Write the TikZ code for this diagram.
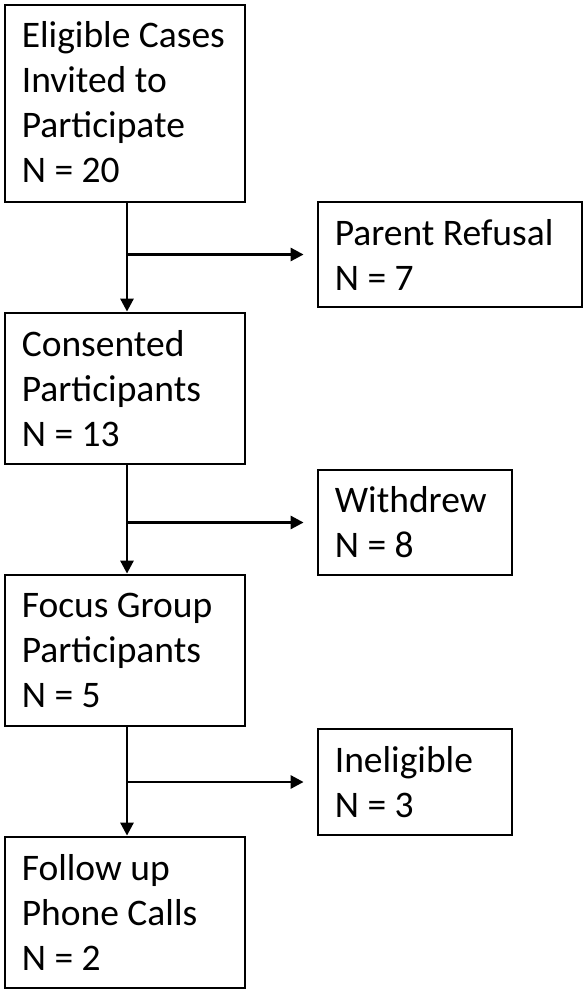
\documentclass[tikz,border=0pt]{standalone}
\usepackage{fontspec}
\setmainfont{Carlito}
\usetikzlibrary{arrows.meta}
\begin{document}
\begin{tikzpicture}[x=1pt,y=-1pt,
  box/.style={draw=black,line width=2.8pt,minimum width=#1,inner sep=0pt},
  txt/.style={anchor=west,align=left,inner sep=0pt,font=\fontsize{37.5}{45}\selectfont},
  arr/.style={line width=2.8pt,-{Triangle[length=13pt,width=13pt]}}]
\useasboundingbox (0,0) rectangle (588,996);
\node[box=240pt,minimum height=197pt] (b1) at (125,103.5) {};
\node[box=264pt,minimum height=105pt] (pr) at (450,254.5) {};
\node[box=240pt,minimum height=151pt] (b2) at (125,388.5) {};
\node[box=194pt,minimum height=105pt] (wd) at (415,522.5) {};
\node[box=240pt,minimum height=151pt] (b3) at (125,650.5) {};
\node[box=194pt,minimum height=106pt] (ie) at (415,782) {};
\node[box=240pt,minimum height=151pt] (b4) at (125,912.5) {};
\node[txt] (t1) at ([xshift=18pt,yshift=1pt]b1.west) {Eligible Cases\\Invited to\\Participate\\N = 20};
\node[txt] (tpr) at ([xshift=18pt]pr.west) {Parent Refusal\\N = 7};
\node[txt] (t2) at ([xshift=18pt]b2.west) {Consented\\Participants\\N = 13};
\node[txt] (twd) at ([xshift=18pt]wd.west) {Withdrew\\N = 8};
\node[txt] (t3) at ([xshift=18pt]b3.west) {Focus Group\\Participants\\N = 5};
\node[txt] (tie) at ([xshift=18pt]ie.west) {Ineligible\\N = 3};
\node[txt] (t4) at ([xshift=18pt]b4.west) {Follow up\\Phone Calls\\N = 2};
\draw[arr] ([xshift=2pt]b1.south) -- ([xshift=2pt]b2.north);
\draw[arr] ([xshift=2pt]b2.south) -- ([xshift=2pt]b3.north);
\draw[arr] ([xshift=2pt]b3.south) -- ([xshift=2pt]b4.north);
\draw[arr,shorten >=13pt] ([xshift=2pt]b1.south |- pr.west) -- (pr.west);
\draw[arr,shorten >=13pt] ([xshift=2pt]b2.south |- wd.west) -- (wd.west);
\draw[arr,shorten >=13pt] ([xshift=2pt]b3.south |- ie.west) -- (ie.west);
\end{tikzpicture}
\end{document}
